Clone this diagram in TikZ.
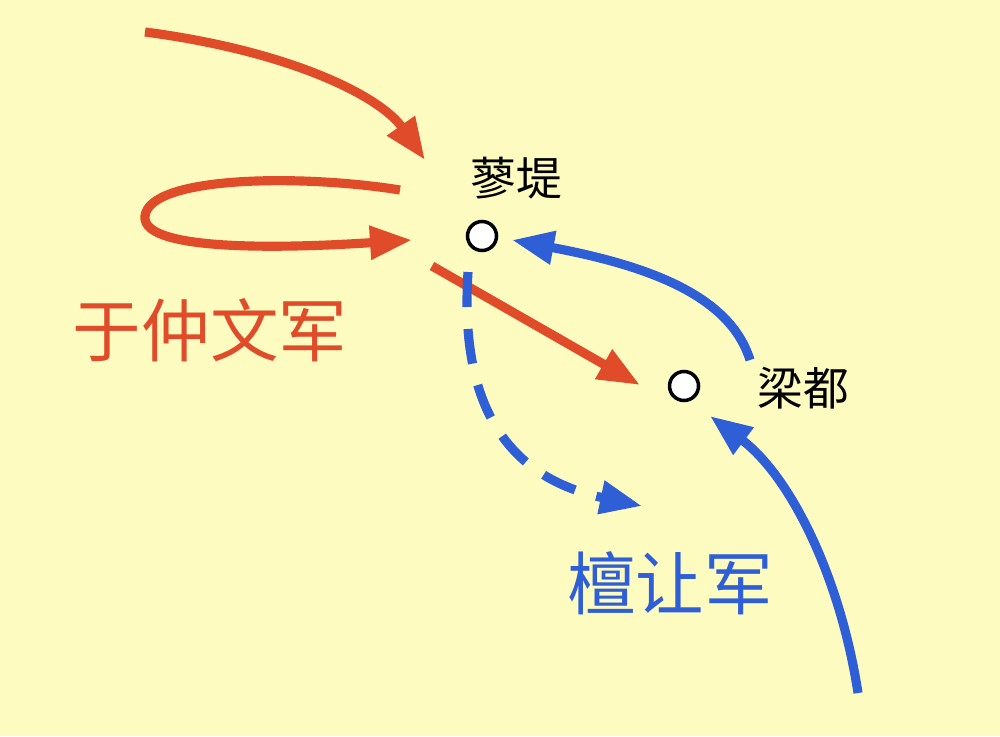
\documentclass[tikz,border=0pt]{standalone}
\usepackage{fontspec}
\newfontfamily\cjk{Noto Sans CJK SC}
\usetikzlibrary{arrows, arrows.meta}
\definecolor{bgyellow}{HTML}{FDFBC0}
\definecolor{armyred}{HTML}{E04B2A}
\definecolor{armyblue}{HTML}{2F5FD6}
\tikzset{town/.style={circle, draw=black, fill=white, line width=1pt, minimum size=0.29cm, inner sep=0pt},
  redroute/.style={armyred, line width=2.6pt, -{Triangle[length=0.42cm,width=0.32cm]}},
  blueroute/.style={armyblue, line width=2.6pt, -{Triangle[length=0.42cm,width=0.32cm]}}}
\begin{document}
\begin{tikzpicture}[>=latex, font=\cjk]
\fill[bgyellow] (0,0) rectangle (10,7.36);
\useasboundingbox (0,0) rectangle (10,7.36);
\node[town] (liaodi) at (4.82,5.00) {};
\node[town] (liangdu) at (6.84,3.50) {};
\node[scale=1.3] (liaodilab) at (5.16,5.58) {蓼堤};
\node[scale=1.3] (liangdulab) at (8.03,3.48) {梁都};
\node[armyred, scale=1.95] (yu) at (2.1,4.06) {于仲文军};
\node[armyblue, scale=1.95] (tan) at (6.7,1.53) {檀让军};
    \coordinate (r1s) at (1.45,7.04);
    \coordinate (r1e) at (4.25,5.76);
    \coordinate (r2s) at (4.00,5.46);
    \coordinate (r2e) at (4.12,4.96);
    \coordinate (r3s) at (4.32,4.70);
    \coordinate (r3e) at (6.40,3.51);
    \draw[redroute] (r1s) .. controls (2.9,6.85) and (3.8,6.4) .. (r1e);
    \draw[redroute] (r2s) .. controls (3.0,5.62) and (1.5,5.6) .. (1.45,5.2)
       .. controls (1.4,4.8) and (3.2,4.9) .. (r2e);
    \draw[redroute] (r3s) -- (r3e);
    \coordinate (b1s) at (7.50,3.76);
    \coordinate (b1e) at (5.12,4.96);
    \coordinate (b2s) at (8.58,0.43);
    \coordinate (b2e) at (7.10,3.20);
    \coordinate (b3s) at (4.68,4.64);
    \coordinate (b3e) at (6.42,2.30);
    \draw[blueroute] (b1s) .. controls (7.3,4.4) and (6.5,4.7) .. (b1e);
    \draw[blueroute] (b2s) .. controls (8.4,1.6) and (7.9,2.6) .. (b2e);
    \draw[blueroute, dash pattern=on 0.35cm off 0.22cm] (b3s) .. controls (4.6,3.4) and (5.0,2.6) .. (b3e);
\end{tikzpicture}
\end{document}
